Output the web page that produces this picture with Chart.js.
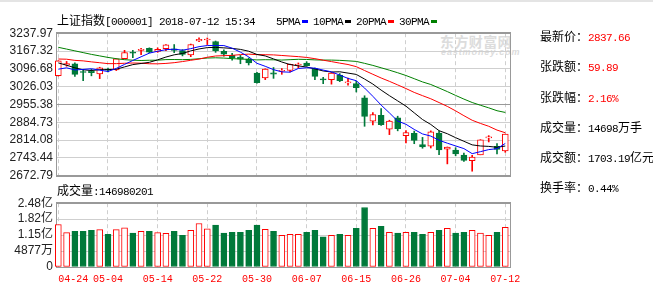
<!DOCTYPE html>
<html>
<head>
<meta charset="utf-8">
<title>上证指数</title>
<script src="https://cdn.jsdelivr.net/npm/chart.js@4/dist/chart.umd.min.js"></script>
<style>
  body { margin: 0; width: 653px; height: 292px; background: #fff; position: relative; overflow: hidden; }
  .topbar { position: absolute; left: 0; top: 0; width: 653px; height: 2px; background: #e4e4e4; }
  .t { position: absolute; white-space: nowrap; line-height: 14px; color: #000; }
  .c { font-family: "Noto Sans CJK SC", sans-serif; font-size: 12px; }
  .m { font-family: "Liberation Mono", monospace; font-size: 11px; letter-spacing: -0.6px; }
  .red { color: #f00; }
  .key { display: inline-block; width: 6px; height: 3px; margin: 0 5px 0 2px; vertical-align: 2px; }
  .wm { position: absolute; color: #dcdcdc; white-space: nowrap; }
  canvas { position: absolute; left: 0; }
</style>
</head>
<body>
<div class="topbar"></div>
<div class="wm" style="left:440px;top:31px;font-family:'Noto Sans CJK SC',sans-serif;font-size:14px;font-weight:bold;letter-spacing:0.4px">东方财富网</div>
<div class="wm" style="left:441px;top:47px;font-family:'Liberation Sans',sans-serif;font-size:9px;font-weight:bold;font-style:italic;letter-spacing:0.9px">eastmoney.com</div>

<canvas id="price" width="653" height="165" style="top:22px;width:653px;height:165px"></canvas>
<canvas id="vol" width="653" height="100" style="top:192px;width:653px;height:100px"></canvas>

<div class="t" style="left:57px;top:13px"><span class="c">上证指数</span><span class="m">[000001] 2018-07-12 15:34</span></div>
<div class="t" style="left:276px;top:13px"><span class="m">5PMA</span><i class="key" style="background:#00f"></i><span class="m">10PMA</span><i class="key" style="background:#000"></i><span class="m">20PMA</span><i class="key" style="background:#f00"></i><span class="m">30PMA</span><i class="key" style="background:#008000"></i></div>
<div class="t" style="left:57px;top:183px"><span class="c">成交量</span><span class="m">:146980201</span></div>

<div class="t" style="left:540px;top:29px"><span class="c">最新价：</span><span class="m red">2837.66</span></div>
<div class="t" style="left:540px;top:59px"><span class="c">张跌额：</span><span class="m red">59.89</span></div>
<div class="t" style="left:540px;top:90px"><span class="c">张跌幅：</span><span class="m red">2.16%</span></div>
<div class="t" style="left:540px;top:120px"><span class="c">成交量：</span><span class="m">14698</span><span class="c">万手</span></div>
<div class="t" style="left:540px;top:150px"><span class="c">成交额：</span><span class="m">1703.19</span><span class="c">亿元</span></div>
<div class="t" style="left:540px;top:180px"><span class="c">换手率：</span><span class="m">0.44%</span></div>

<script>
const dates = ['04-24','04-25','04-26','04-27','05-02','05-03','05-04','05-07','05-08','05-09',
  '05-10','05-11','05-14','05-15','05-16','05-17','05-18','05-21','05-22','05-23',
  '05-24','05-25','05-28','05-29','05-30','05-31','06-01','06-04','06-05','06-06',
  '06-07','06-08','06-11','06-12','06-13','06-14','06-15','06-19','06-20','06-21',
  '06-22','06-25','06-26','06-27','06-28','06-29','07-02','07-03','07-04','07-05',
  '07-06','07-09','07-10','07-11','07-12'];
const tickDates = ['04-24','05-04','05-14','05-22','05-30','06-07','06-15','06-26','07-04','07-12'];

const open = [3069.9,3112,3117,3085,3089,3077,3096,3092,3137,3162,
  3170,3178,3166,3177,3176,3169,3152,3207,3211,3205,
  3166,3150,3143,3135,3080,3061,3081,3087,3090,3112,
  3120,3098,3055,3054,3072,3041,3038,2982,2889,2912,
  2858,2903,2832,2841,2797,2790,2842,2778,2775,2755,
  2733,2756,2823,2790,2771];
const high = [3129,3126,3121,3095,3095,3103,3100,3137,3170,3170,
  3178,3180,3180,3193,3193,3173,3195,3220,3219,3207,
  3172,3158,3150,3140,3083,3097,3102,3098,3116,3120,
  3125,3100,3063,3082,3078,3060,3048,2990,2923,2939,
  2893,2909,2852,2850,2825,2851,2850,2787,2784,2763,
  2754,2816,2832,2800,2838];
const low = [3068,3107,3067,3050,3069,3058,3085,3090,3136,3141,
  3153,3160,3162,3169,3161,3148,3145,3204,3193,3162,
  3147,3131,3117,3112,3040,3054,3059,3075,3085,3100,
  3107,3054,3038,3036,3046,3032,3005,2869,2874,2872,
  2836,2851,2803,2800,2782,2783,2757,2720,2752,2730,
  2691,2756,2807,2760,2766];
const close = [3128.93,3117.97,3075.03,3082.23,3081.18,3100.86,3091.03,3136.65,3161.50,3159.15,
  3174.41,3163.26,3174.03,3192.12,3169.57,3154.28,3193.30,3213.84,3214.35,3168.96,
  3154.65,3141.30,3135.08,3120.46,3041.44,3095.47,3075.14,3091.19,3114.21,3115.18,
  3109.50,3067.15,3052.78,3079.80,3049.80,3044.16,3021.90,2907.82,2915.73,2875.81,
  2889.76,2859.34,2844.51,2813.18,2786.90,2847.42,2775.56,2786.89,2759.13,2733.88,
  2747.23,2815.11,2827.63,2777.77,2837.66];

const ma5 = [3095.45,3100.77,3092.30,3094.43,3097.07,3091.45,3086.07,3098.39,3114.24,3129.84,
  3144.55,3158.99,3166.47,3172.59,3174.68,3170.65,3176.66,3184.62,3189.07,3188.95,
  3189.02,3178.62,3162.87,3144.09,3118.59,3106.75,3093.52,3084.74,3083.49,3098.24,
  3101.04,3099.45,3091.76,3084.88,3071.81,3058.74,3049.69,3020.70,2987.88,2953.08,
  2922.20,2889.69,2877.03,2856.52,2838.74,2830.27,2813.51,2801.99,2791.18,2780.58,
  2760.54,2768.45,2776.60,2780.32,2801.08];
const ma10 = [3120.20,3111.19,3100.68,3092.99,3090.05,3093.45,3093.42,3095.34,3104.34,3113.45,
  3118.00,3122.53,3132.43,3143.42,3152.26,3157.60,3167.83,3175.55,3180.83,3181.81,
  3179.84,3177.64,3173.75,3166.58,3153.77,3147.89,3136.07,3123.80,3113.79,3108.41,
  3103.90,3096.48,3088.25,3084.19,3085.02,3079.89,3074.57,3056.23,3036.38,3012.45,
  2990.47,2969.69,2948.86,2922.20,2895.91,2876.24,2851.60,2839.51,2823.85,2809.66,
  2795.40,2790.98,2789.29,2785.75,2790.83];
const ma20 = [3135.68,3134.89,3130.31,3128.31,3124.34,3120.94,3117.33,3117.33,3118.85,3119.90,
  3119.10,3116.86,3116.55,3118.21,3121.15,3125.53,3130.62,3135.44,3142.59,3147.63,
  3148.92,3150.09,3153.09,3155.00,3153.01,3152.74,3151.95,3149.68,3147.31,3145.11,
  3141.87,3137.06,3131.00,3125.38,3119.39,3113.89,3105.32,3090.02,3075.09,3060.43,
  3047.18,3033.09,3018.56,3003.19,2990.47,2978.06,2963.09,2947.87,2930.12,2911.05,
  2892.94,2880.34,2869.08,2853.98,2843.37];
const ma30 = [3182,3175,3168,3161,3154,3148,3142,3137,3133,3131,
  3129.79,3130.77,3131.02,3133.35,3133.65,3133.16,3134.16,3136.74,3139.51,3140.53,
  3139.35,3137.12,3135.62,3134.33,3132.02,3132.98,3132.44,3131.56,3132.99,3134.56,
  3133.91,3132.22,3131.48,3131.39,3130.35,3128.46,3126.15,3118.53,3110.33,3100.89,
  3091.40,3081.27,3070.29,3057.66,3044.90,3034.67,3020.75,3006.51,2991.34,2976.84,
  2963.26,2952.38,2942.14,2930.71,2923.92];

// 成交量, in 亿
const volume = [1.593,1.253,1.307,1.307,1.347,1.376,1.184,1.376,1.458,1.237,
  1.307,1.307,1.253,1.225,1.307,1.143,1.347,1.634,1.417,1.565,
  1.237,1.265,1.265,1.347,1.565,1.388,1.307,1.143,1.184,1.184,
  1.265,1.347,1.074,1.143,1.184,1.143,1.43,2.30,1.43,1.52,
  1.265,1.237,1.265,1.265,1.184,1.265,1.347,1.43,1.237,1.265,
  1.347,1.237,1.143,1.265,1.4698];

const priceTicks = [2672.79,2743.44,2814.08,2884.73,2955.38,3026.03,3096.68,3167.32,3237.97];
const volTicks = [-0.178,0.4877,1.15,1.82,2.48];
const volLabels = ['0','4877万','1.15亿','1.82亿','2.48亿'];

const UP = '#ff0000';
const DOWN = '#00793a';
const GRID = '#cfcfcf';
const GRID_DARK = '#999999';

Chart.defaults.font.family = '"Liberation Sans", "Noto Sans CJK SC", sans-serif';
Chart.defaults.font.size = 12;
Chart.defaults.color = '#222';

const idx = dates.map((d, i) => i);
const tickIdx = tickDates.map(d => dates.indexOf(d));
const isUp = i => close[i] >= open[i];
const xMin = -0.16;
const xMax = dates.length - 1 + 0.57;

// grey box round the plot area, under the candles
const frame = {
    id: 'frame',
    beforeDatasetsDraw(chart) {
        const { left, top, right, bottom } = chart.chartArea;
        const ctx = chart.ctx;
        ctx.save();
        ctx.strokeStyle = GRID_DARK;
        ctx.lineWidth = 1;
        ctx.strokeRect(Math.round(left) - 0.5, Math.round(top) - 0.5,
            Math.round(right - left) + 1, Math.round(bottom - top) + 1);
        ctx.restore();
    }
};

const xAxis = (ticks) => ({
    type: 'linear',
    min: xMin,
    max: xMax,
    offset: false,
    afterBuildTicks: a => { a.ticks = tickIdx.map(v => ({ value: v })); },
    grid: { color: GRID, drawTicks: false, offset: false },
    border: { display: false, dash: [4, 3] },
    ticks: ticks
});

const yAxis = (min, max, values, label, dark) => ({
    min: min,
    max: max,
    afterBuildTicks: a => { a.ticks = values.map(v => ({ value: v })); },
    afterFit: a => { a.width = 57; },
    grid: { color: ctx => dark.includes(ctx.index) ? GRID_DARK : GRID, drawTicks: false },
    border: { display: false },
    ticks: { padding: 4, color: '#222', autoSkip: false, callback: label }
});

const baseOptions = {
    responsive: false,
    animation: false,
    devicePixelRatio: 1,
    events: [],
    plugins: { legend: { display: false }, tooltip: { enabled: false } }
};

const maLine = (label, values, color) => ({
    type: 'line',
    label: label,
    data: idx.map(i => ({ x: i, y: values[i] })),
    borderColor: color,
    borderWidth: 1,
    pointRadius: 0,
    order: 0
});

// K-line
new Chart(document.getElementById('price'), {
    type: 'bar',
    data: {
        datasets: [
            maLine('5PMA', ma5, '#0000ff'),
            maLine('10PMA', ma10, '#000000'),
            maLine('20PMA', ma20, '#ff0000'),
            maLine('30PMA', ma30, '#008000'),
            {
                label: 'body',
                data: idx.map(i => ({ x: i, y: [open[i], close[i]] })),
                backgroundColor: ctx => isUp(ctx.dataIndex) ? '#ffffff' : DOWN,
                borderColor: ctx => isUp(ctx.dataIndex) ? UP : DOWN,
                borderWidth: 1,
                borderSkipped: false,
                barThickness: 6,
                minBarLength: 1,
                grouped: false,
                clip: false,
                order: 1
            },
            {
                label: 'wick',
                data: idx.map(i => ({ x: i, y: [low[i], high[i]] })),
                backgroundColor: ctx => isUp(ctx.dataIndex) ? UP : DOWN,
                borderWidth: 0,
                barThickness: 1,
                grouped: false,
                clip: false,
                order: 2
            }
        ]
    },
    options: {
        ...baseOptions,
        layout: { padding: { top: 11, right: 143, bottom: 10, left: 0 } },
        scales: {
            x: { ...xAxis({ display: false }), afterFit: a => { a.height = 0; } },
            y: yAxis(priceTicks[0], priceTicks[priceTicks.length - 1], priceTicks,
                v => v.toFixed(2), [0, 4, 8])
        }
    },
    plugins: [frame]
});

// 成交量
new Chart(document.getElementById('vol'), {
    type: 'bar',
    data: {
        datasets: [{
            label: '成交量',
            data: idx.map(i => ({ x: i, y: volume[i] })),
            base: volTicks[0],
            backgroundColor: ctx => isUp(ctx.dataIndex) ? '#ffffff' : DOWN,
            borderColor: ctx => isUp(ctx.dataIndex) ? UP : DOWN,
            borderWidth: 1,
            borderSkipped: false,
            barThickness: 6,
            grouped: false,
            clip: false
        }]
    },
    options: {
        ...baseOptions,
        layout: { padding: { top: 10, right: 143, bottom: 0, left: 0 } },
        scales: {
            x: {
                ...xAxis({
                    color: '#ff0000',
                    font: { family: '"Liberation Mono", monospace', size: 10 },
                    padding: 6,
                    maxRotation: 0,
                    autoSkip: false,
                    // first label sits right of its grid line, as in the original
                    callback: (v, i) => (i === 0 ? '     ' : '') + dates[v]
                }),
                afterFit: a => { a.height = 25; }
            },
            y: yAxis(volTicks[0], volTicks[volTicks.length - 1], volTicks,
                (v, i) => volLabels[i], [0, 4])
        }
    },
    plugins: [frame]
});
</script>
</body>
</html>
